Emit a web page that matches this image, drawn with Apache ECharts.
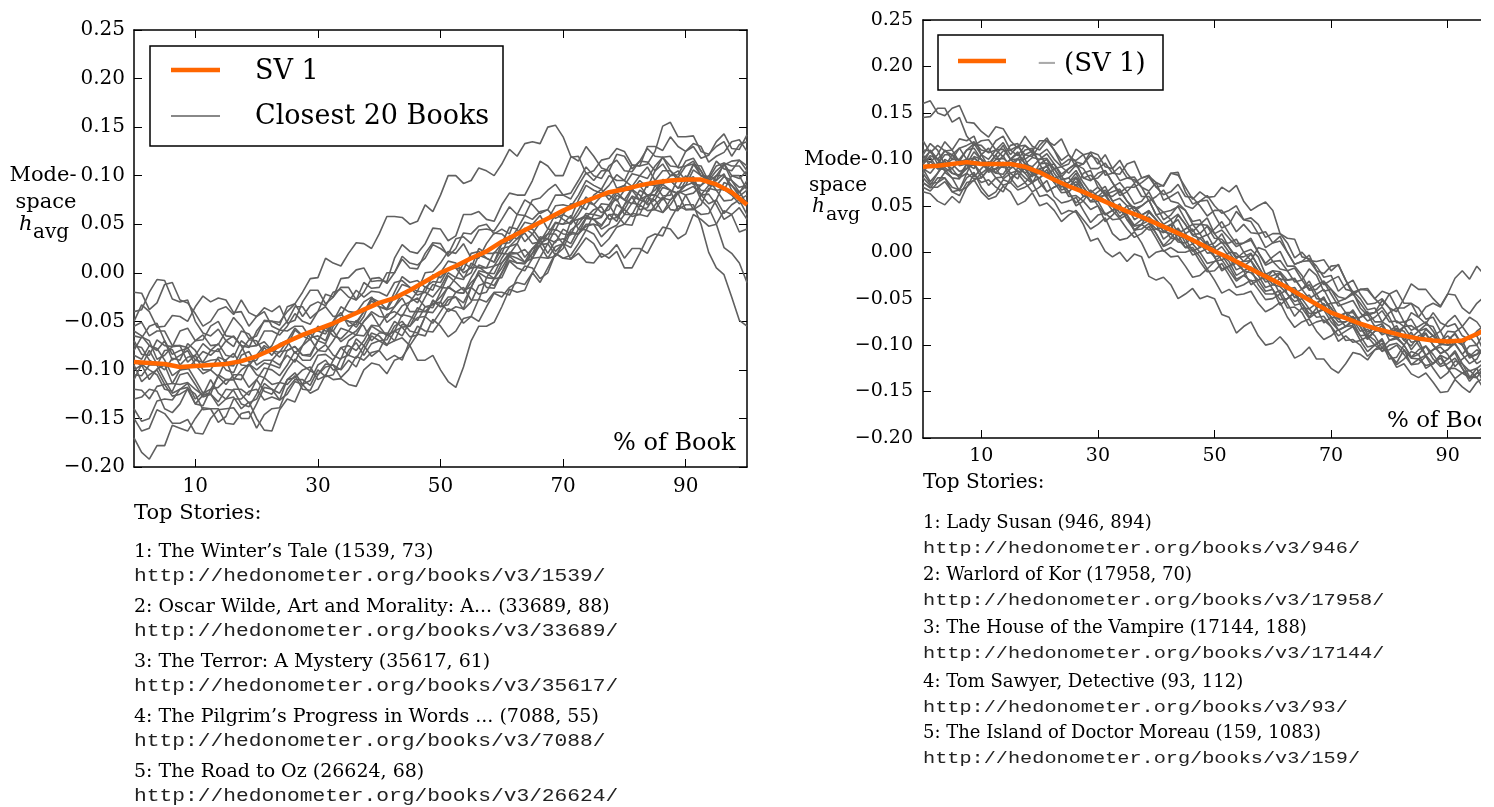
<!DOCTYPE html>
<html><head><meta charset="utf-8">
<script src="https://cdn.jsdelivr.net/npm/echarts@6/dist/echarts.min.js"></script>
<style>
html,body{margin:0;padding:0;background:#fff;width:1494px;height:807px;overflow:hidden}
#wrap{position:absolute;left:0;top:0;width:1481px;height:807px;overflow:hidden;background:#fff}
#chart{position:absolute;left:0;top:0;width:1530px;height:807px}
</style></head><body><div id="wrap"><div id="chart"></div></div>
<script>
// ---------- data ----------
const pct = [0,2.5,5,7.5,10,12.5,15,17.5,20,22.5,25,27.5,30,32.5,35,37.5,40,42.5,45,47.5,50,52.5,55,57.5,60,62.5,65,67.5,70,72.5,75,77.5,80,82.5,85,87.5,90,92.5,95,97.5,100];
const pctFine = [0,1.25,2.5,3.75,5,6.25,7.5,8.75,10,11.25,12.5,13.75,15,16.25,17.5,18.75,20,21.25,22.5,23.75,25,26.25,27.5,28.75,30,31.25,32.5,33.75,35,36.25,37.5,38.75,40,41.25,42.5,43.75,45,46.25,47.5,48.75,50,51.25,52.5,53.75,55,56.25,57.5,58.75,60,61.25,62.5,63.75,65,66.25,67.5,68.75,70,71.25,72.5,73.75,75,76.25,77.5,78.75,80,81.25,82.5,83.75,85,86.25,87.5,88.75,90,91.25,92.5,93.75,95,96.25,97.5,98.75,100];
const xTicks = [10,30,50,70,90];
const yMin = -0.2, yMax = 0.25, yStep = 0.05;

const sv1Left = [-0.092,-0.093,-0.094,-0.097,-0.096,-0.095,-0.094,-0.091,-0.086,-0.079,-0.071,-0.064,-0.058,-0.052,-0.045,-0.038,-0.031,-0.026,-0.018,-0.009,0,0.007,0.015,0.022,0.032,0.04,0.048,0.056,0.064,0.071,0.077,0.083,0.086,0.09,0.093,0.095,0.096,0.096,0.091,0.083,0.07];
const sv1Right = [0.092,0.093,0.095,0.097,0.095,0.095,0.095,0.092,0.086,0.078,0.071,0.065,0.058,0.051,0.044,0.038,0.031,0.024,0.017,0.009,0.001,-0.006,-0.014,-0.022,-0.03,-0.038,-0.047,-0.056,-0.065,-0.071,-0.077,-0.082,-0.086,-0.09,-0.093,-0.095,-0.096,-0.095,-0.088,-0.08,-0.07];

const leftBook1 = [-0.02,-0.021,-0.038,-0.031,-0.012,-0.01,-0.028,-0.031,-0.042,-0.055,-0.05,-0.038,-0.035,-0.043,-0.028,-0.041,-0.045,-0.036,-0.04,-0.034,-0.052,-0.049,-0.03,-0.018,-0.018,-0.032,-0.025,-0.006,-0.005,0.003,0.005,-0.009,-0.008,-0.009,0.015,0.029,0.022,0.02,0.03,0.046,0.045,0.033,0.038,0.06,0.06,0.063,0.055,0.053,0.07,0.082,0.08,0.08,0.095,0.115,0.11,0.1,0.1,0.119,0.12,0.102,0.105,0.116,0.118,0.128,0.125,0.111,0.11,0.13,0.13,0.126,0.14,0.13,0.125,0.13,0.118,0.121,0.135,0.143,0.128,0.127,0.142];
const leftBook2 = [-0.17,-0.185,-0.192,-0.178,-0.178,-0.157,-0.16,-0.163,-0.15,-0.139,-0.14,-0.154,-0.148,-0.13,-0.13,-0.122,-0.12,-0.131,-0.128,-0.131,-0.11,-0.103,-0.115,-0.111,-0.095,-0.09,-0.1,-0.099,-0.08,-0.072,-0.085,-0.073,-0.07,-0.075,-0.06,-0.056,-0.066,-0.064,-0.045,-0.028,-0.035,-0.033,-0.02,-0.015,-0.028,-0.028,-0.005,0.007,0.01,0.021,0.02,0.011,0.015,0.035,0.035,0.031,0.045,0.04,0.04,0.056,0.055,0.057,0.07,0.076,0.06,0.06,0.075,0.091,0.09,0.079,0.08,0.098,0.095,0.094,0.085,0.084,0.1,0.1,0.09,0.082,0.095];
const leftBook3 = [-0.06,-0.065,-0.075,-0.08,-0.07,-0.09,-0.085,-0.08,-0.095,-0.104,-0.1,-0.087,-0.09,-0.109,-0.11,-0.094,-0.1,-0.093,-0.095,-0.098,-0.08,-0.076,-0.085,-0.086,-0.07,-0.056,-0.065,-0.068,-0.06,-0.049,-0.055,-0.07,-0.062,-0.062,-0.07,-0.067,-0.075,-0.09,-0.09,-0.085,-0.1,-0.112,-0.118,-0.097,-0.07,-0.055,-0.055,-0.051,-0.035,-0.017,-0.02,-0.018,0,0.016,0.015,0.017,0.03,0.053,0.055,0.059,0.055,0.049,0.06,0.06,0.05,0.049,0.07,0.064,0.065,0.077,0.075,0.082,0.065,0.065,0.08,0.081,0.07,0.055,0.06,0.067,0.055];
const leftBook4 = [-0.11,-0.094,-0.1,-0.105,-0.12,-0.122,-0.105,-0.103,-0.115,-0.128,-0.125,-0.105,-0.11,-0.11,-0.1,-0.094,-0.105,-0.108,-0.09,-0.081,-0.08,-0.076,-0.085,-0.084,-0.07,-0.055,-0.06,-0.071,-0.065,-0.06,-0.05,-0.04,-0.045,-0.046,-0.035,-0.026,-0.04,-0.04,-0.025,-0.012,-0.015,-0.016,-0.005,0.01,0.005,0.006,0,-0.001,0.015,0.027,0.03,0.016,0.025,0.028,0.04,0.052,0.05,0.059,0.045,0.044,0.06,0.071,0.07,0.057,0.065,0.079,0.075,0.08,0.08,0.075,0.085,0.065,0.07,0.07,0.05,0.021,0.005,-0.002,-0.025,-0.049,-0.055];
const leftBook5 = [-0.08,-0.066,-0.07,-0.089,-0.085,-0.076,-0.075,-0.077,-0.09,-0.092,-0.08,-0.073,-0.085,-0.087,-0.07,-0.076,-0.075,-0.06,-0.06,-0.064,-0.055,-0.042,-0.05,-0.053,-0.04,-0.035,-0.045,-0.044,-0.03,-0.018,-0.025,-0.019,-0.02,-0.024,-0.01,-0.008,-0.015,-0.019,0,0.001,0.01,0.022,0.02,0.03,0.015,0.015,0.03,0.041,0.04,0.033,0.045,0.059,0.055,0.063,0.065,0.056,0.06,0.056,0.075,0.09,0.085,0.082,0.09,0.101,0.095,0.089,0.1,0.109,0.095,0.105,0.105,0.098,0.11,0.112,0.1,0.095,0.105,0.112,0.095,0.088,0.09];
const leftBook6 = [-0.13,-0.128,-0.12,-0.122,-0.14,-0.144,-0.135,-0.119,-0.125,-0.141,-0.14,-0.14,-0.155,-0.156,-0.145,-0.143,-0.16,-0.146,-0.14,-0.139,-0.12,-0.11,-0.11,-0.116,-0.1,-0.107,-0.105,-0.088,-0.085,-0.068,-0.075,-0.086,-0.08,-0.064,-0.06,-0.065,-0.05,-0.036,-0.04,-0.032,-0.03,-0.04,-0.035,-0.037,-0.015,0,-0.005,-0.006,0.005,0.018,0.015,0.011,0.025,0.034,0.02,0.033,0.035,0.03,0.045,0.057,0.055,0.045,0.05,0.07,0.065,0.058,0.06,0.077,0.075,0.062,0.07,0.082,0.085,0.089,0.08,0.071,0.075,0.093,0.09,0.079,0.085];
const leftBook7 = [-0.1,-0.095,-0.11,-0.099,-0.095,-0.114,-0.115,-0.113,-0.12,-0.126,-0.11,-0.124,-0.13,-0.128,-0.14,-0.133,-0.15,-0.162,-0.163,-0.141,-0.13,-0.133,-0.115,-0.101,-0.105,-0.097,-0.095,-0.1,-0.09,-0.097,-0.08,-0.065,-0.07,-0.069,-0.055,-0.05,-0.06,-0.062,-0.045,-0.029,-0.035,-0.025,-0.025,-0.038,-0.03,-0.013,-0.01,-0.013,0,0.017,0.01,0.01,0.02,0.037,0.035,0.022,0.03,0.044,0.05,0.061,0.06,0.058,0.07,0.083,0.075,0.071,0.085,0.08,0.08,0.096,0.095,0.087,0.09,0.106,0.1,0.097,0.11,0.113,0.1,0.097,0.105];
const leftBook8 = [-0.05,-0.033,-0.04,-0.056,-0.055,-0.044,-0.045,-0.05,-0.035,-0.024,-0.03,-0.026,-0.028,-0.041,-0.04,-0.055,-0.045,-0.04,-0.055,-0.059,-0.05,-0.035,-0.035,-0.047,-0.04,-0.022,-0.025,-0.015,-0.015,-0.028,-0.02,-0.006,-0.005,-0.011,0,0.017,0.01,0.008,0.015,0.029,0.025,0.019,0.035,0.037,0.03,0.044,0.045,0.043,0.055,0.068,0.06,0.059,0.075,0.077,0.085,0.091,0.08,0.082,0.095,0.109,0.1,0.097,0.11,0.116,0.105,0.104,0.115,0.128,0.12,0.119,0.11,0.109,0.125,0.133,0.13,0.114,0.12,0.124,0.135,0.137,0.125];
const leftBook9 = [-0.095,-0.112,-0.105,-0.1,-0.115,-0.114,-0.1,-0.097,-0.11,-0.124,-0.12,-0.107,-0.115,-0.105,-0.105,-0.118,-0.11,-0.098,-0.1,-0.106,-0.095,-0.081,-0.09,-0.09,-0.08,-0.074,-0.085,-0.089,-0.07,-0.064,-0.065,-0.054,-0.055,-0.065,-0.06,-0.043,-0.045,-0.049,-0.035,-0.033,-0.025,-0.015,-0.02,-0.021,-0.01,-0.002,-0.015,-0.016,0,0.013,0.01,0.009,0.02,0.028,0.015,0.027,0.03,0.026,0.04,0.05,0.05,0.037,0.045,0.049,0.06,0.072,0.07,0.08,0.065,0.062,0.075,0.084,0.08,0.065,0.07,0.087,0.085,0.086,0.08,0.071,0.075];
const leftBook10 = [-0.04,-0.038,-0.02,-0.007,-0.008,-0.027,-0.03,-0.028,-0.05,-0.062,-0.065,-0.058,-0.07,-0.076,-0.06,-0.063,-0.075,-0.071,-0.08,-0.082,-0.07,-0.057,-0.065,-0.069,-0.055,-0.06,-0.06,-0.047,-0.05,-0.051,-0.04,-0.026,-0.035,-0.038,-0.025,-0.012,-0.015,-0.023,-0.02,-0.002,-0.005,0.004,0.005,0.003,0.02,0.022,0.015,0.011,0.03,0.031,0.04,0.052,0.05,0.059,0.045,0.044,0.06,0.071,0.07,0.065,0.08,0.086,0.075,0.085,0.09,0.085,0.095,0.088,0.105,0.112,0.1,0.101,0.115,0.118,0.105,0.091,0.095,0.113,0.11,0.11,0.1];
const leftBook11 = [-0.12,-0.121,-0.13,-0.117,-0.115,-0.127,-0.125,-0.12,-0.135,-0.137,-0.12,-0.118,-0.11,-0.11,-0.125,-0.134,-0.13,-0.114,-0.12,-0.131,-0.125,-0.112,-0.115,-0.124,-0.12,-0.105,-0.11,-0.109,-0.115,-0.117,-0.1,-0.093,-0.095,-0.104,-0.09,-0.087,-0.075,-0.063,-0.065,-0.048,-0.055,-0.066,-0.06,-0.047,-0.045,-0.05,-0.035,-0.021,-0.025,-0.015,-0.01,-0.012,0,-0.01,0.005,0.02,0.015,0.014,0.025,0.036,0.03,0.016,0.02,0.029,0.015,0.025,0.025,0.02,0.035,0.047,0.045,0.035,0.04,0.06,0.055,0.048,0.05,0.064,0.06,0.042,0.045];
const leftBook12 = [-0.07,-0.084,-0.085,-0.069,-0.075,-0.076,-0.06,-0.057,-0.07,-0.069,-0.055,-0.05,-0.065,-0.066,-0.075,-0.077,-0.06,-0.05,-0.05,-0.054,-0.035,-0.032,-0.02,-0.006,-0.005,0.015,0.01,0.007,0.02,0.031,0.03,0.025,0.04,0.058,0.058,0.057,0.05,0.053,0.07,0.063,0.08,0.1,0.1,0.092,0.095,0.108,0.105,0.1,0.112,0.127,0.12,0.133,0.135,0.133,0.15,0.152,0.14,0.12,0.115,0.13,0.12,0.108,0.105,0.122,0.12,0.107,0.115,0.114,0.105,0.119,0.12,0.108,0.11,0.115,0.1,0.099,0.115,0.107,0.105,0.116,0.11];
const leftBook13 = [-0.085,-0.089,-0.075,-0.078,-0.09,-0.106,-0.1,-0.099,-0.09,-0.081,-0.085,-0.078,-0.095,-0.096,-0.08,-0.069,-0.07,-0.083,-0.075,-0.059,-0.06,-0.055,-0.055,-0.067,-0.065,-0.07,-0.05,-0.035,-0.04,-0.041,-0.03,-0.025,-0.035,-0.037,-0.02,-0.004,-0.01,-0.008,-0.015,-0.018,0,0.012,0.01,0,0.005,0.025,0.02,0.02,0.03,0.047,0.045,0.032,0.04,0.052,0.055,0.069,0.07,0.068,0.08,0.095,0.09,0.086,0.1,0.095,0.095,0.111,0.11,0.112,0.125,0.151,0.155,0.14,0.14,0.141,0.125,0.122,0.13,0.135,0.12,0.132,0.135];
const leftBook14 = [-0.075,-0.077,-0.09,-0.095,-0.08,-0.079,-0.095,-0.087,-0.085,-0.1,-0.1,-0.107,-0.09,-0.083,-0.095,-0.096,-0.085,-0.075,-0.08,-0.087,-0.075,-0.059,-0.065,-0.063,-0.07,-0.073,-0.055,-0.046,-0.05,-0.056,-0.045,-0.026,-0.03,-0.038,-0.035,-0.021,-0.025,-0.031,-0.015,-0.009,-0.01,0.004,0.005,-0.005,0,0.018,0.015,0.011,0.025,0.027,0.035,0.041,0.03,0.032,0.045,0.061,0.055,0.05,0.06,0.073,0.07,0.062,0.065,0.08,0.075,0.087,0.09,0.079,0.085,0.095,0.095,0.087,0.1,0.091,0.09,0.1,0.095,0.102,0.085,0.075,0.08];
const leftBook15 = [-0.105,-0.106,-0.095,-0.095,-0.11,-0.124,-0.12,-0.114,-0.13,-0.123,-0.125,-0.133,-0.12,-0.121,-0.135,-0.138,-0.125,-0.108,-0.115,-0.113,-0.1,-0.089,-0.095,-0.101,-0.085,-0.084,-0.09,-0.077,-0.075,-0.08,-0.07,-0.055,-0.06,-0.064,-0.05,-0.056,-0.055,-0.04,-0.04,-0.041,-0.03,-0.014,-0.02,-0.021,-0.005,0.008,0.005,0.007,0.02,0.038,0.035,0.044,0.045,0.034,0.04,0.04,0.03,0.014,0.02,0.011,0.01,0.02,0.015,0.022,0.005,0.005,0.02,0.036,0.04,0.038,0.055,0.069,0.065,0.066,0.06,0.061,0.075,0.061,0.07,0.075,0.06];
const leftBook16 = [-0.15,-0.163,-0.16,-0.141,-0.145,-0.155,-0.155,-0.151,-0.165,-0.166,-0.15,-0.141,-0.14,-0.139,-0.15,-0.15,-0.135,-0.118,-0.12,-0.124,-0.11,-0.108,-0.1,-0.097,-0.11,-0.106,-0.09,-0.077,-0.085,-0.088,-0.075,-0.062,-0.065,-0.074,-0.07,-0.053,-0.055,-0.046,-0.045,-0.052,-0.04,-0.028,-0.025,-0.031,-0.015,-0.022,-0.02,-0.006,-0.005,0.012,0.005,0.002,0.015,0.029,0.03,0.018,0.025,0.042,0.04,0.048,0.05,0.048,0.06,0.053,0.07,0.078,0.065,0.067,0.08,0.091,0.085,0.081,0.095,0.099,0.08,0.09,0.09,0.085,0.1,0.1,0.085];
const leftBook17 = [-0.065,-0.067,-0.055,-0.052,-0.07,-0.084,-0.08,-0.078,-0.07,-0.064,-0.075,-0.074,-0.06,-0.046,-0.055,-0.068,-0.065,-0.049,-0.05,-0.051,-0.04,-0.032,-0.045,-0.034,-0.03,-0.034,-0.02,-0.017,-0.025,-0.028,-0.01,-0.016,-0.015,0,0,0.014,0.005,0.004,0.02,0.031,0.03,0.017,0.025,0.041,0.04,0.048,0.05,0.04,0.045,0.04,0.06,0.075,0.07,0.061,0.065,0.08,0.08,0.076,0.09,0.103,0.095,0.105,0.105,0.087,0.09,0.102,0.1,0.097,0.11,0.119,0.105,0.095,0.095,0.111,0.11,0.094,0.1,0.111,0.115,0.116,0.105];
const leftBook18 = [-0.14,-0.153,-0.15,-0.132,-0.13,-0.131,-0.12,-0.118,-0.135,-0.126,-0.125,-0.137,-0.13,-0.12,-0.12,-0.126,-0.11,-0.122,-0.125,-0.113,-0.115,-0.106,-0.12,-0.121,-0.105,-0.094,-0.095,-0.108,-0.1,-0.086,-0.09,-0.082,-0.08,-0.09,-0.085,-0.09,-0.07,-0.055,-0.06,-0.061,-0.05,-0.037,-0.04,-0.052,-0.045,-0.027,-0.03,-0.02,-0.02,-0.023,-0.005,0.007,0.005,-0.006,0,0.02,0.015,0.018,0.03,0.044,0.04,0.027,0.035,0.047,0.05,0.061,0.06,0.058,0.07,0.078,0.065,0.064,0.08,0.082,0.09,0.096,0.085,0.074,0.075,0.084,0.07];
const leftBook19 = [-0.09,-0.096,-0.08,-0.094,-0.1,-0.088,-0.09,-0.073,-0.08,-0.093,-0.09,-0.089,-0.1,-0.103,-0.085,-0.081,-0.095,-0.09,-0.09,-0.095,-0.085,-0.092,-0.075,-0.068,-0.08,-0.081,-0.07,-0.057,-0.06,-0.064,-0.05,-0.042,-0.055,-0.043,-0.04,-0.045,-0.03,-0.026,-0.035,-0.036,-0.02,-0.003,-0.01,-0.018,-0.015,0.002,0,-0.006,0.01,0.019,0.02,0.024,0.015,0.016,0.03,0.045,0.04,0.039,0.055,0.057,0.065,0.068,0.055,0.057,0.07,0.086,0.08,0.07,0.075,0.088,0.085,0.082,0.09,0.093,0.075,0.067,0.05,0.026,0.02,0.01,-0.01];
const leftBook20 = [-0.055,-0.051,-0.065,-0.06,-0.06,-0.075,-0.075,-0.092,-0.085,-0.073,-0.08,-0.081,-0.07,-0.065,-0.075,-0.092,-0.09,-0.077,-0.085,-0.073,-0.07,-0.083,-0.075,-0.061,-0.06,-0.063,-0.05,-0.041,-0.055,-0.053,-0.04,-0.029,-0.035,-0.051,-0.045,-0.034,-0.03,-0.019,-0.02,-0.025,-0.015,0,-0.005,-0.007,0.01,0.005,0.005,0.021,0.02,0.019,0.03,0.046,0.04,0.03,0.035,0.051,0.05,0.052,0.065,0.078,0.07,0.079,0.08,0.074,0.085,0.085,0.075,0.072,0.09,0.091,0.1,0.105,0.095,0.112,0.105,0.09,0.09,0.099,0.095,0.083,0.09];

const rightBook1 = [0.16,0.163,0.15,0.147,0.155,0.158,0.14,0.139,0.13,0.124,0.135,0.133,0.12,0.112,0.125,0.114,0.11,0.12,0.115,0.122,0.105,0.092,0.095,0.104,0.1,0.083,0.085,0.092,0.08,0.078,0.07,0.066,0.075,0.056,0.06,0.065,0.05,0.047,0.055,0.056,0.04,0.026,0.03,0.044,0.035,0.033,0.02,0.005,0.01,0.012,0,-0.013,-0.01,-0.003,-0.02,-0.023,-0.015,-0.014,-0.03,-0.046,-0.04,-0.041,-0.05,-0.042,-0.045,-0.06,-0.06,-0.055,-0.07,-0.077,-0.065,-0.076,-0.08,-0.077,-0.09,-0.094,-0.085,-0.079,-0.095,-0.106,-0.1];
const rightBook2 = [0.145,0.146,0.155,0.155,0.14,0.145,0.125,0.115,0.12,0.121,0.11,0.103,0.115,0.117,0.1,0.106,0.105,0.093,0.095,0.081,0.09,0.095,0.08,0.077,0.085,0.088,0.075,0.061,0.065,0.074,0.06,0.06,0.05,0.035,0.04,0.05,0.045,0.03,0.03,0.037,0.02,0.01,0.01,0.014,0,-0.009,0.005,0.002,-0.01,-0.009,-0.02,-0.032,-0.03,-0.018,-0.025,-0.042,-0.04,-0.048,-0.05,-0.045,-0.055,-0.066,-0.065,-0.052,-0.06,-0.076,-0.075,-0.072,-0.085,-0.094,-0.09,-0.085,-0.1,-0.094,-0.095,-0.112,-0.11,-0.103,-0.105,-0.121,-0.115];
const rightBook3 = [0.065,0.063,0.055,0.051,0.06,0.053,0.07,0.078,0.065,0.057,0.06,0.071,0.065,0.051,0.055,0.064,0.05,0.053,0.045,0.033,0.04,0.045,0.035,0.025,0.03,0.037,0.02,0.013,0.015,0.022,0.01,-0.006,0,0.002,-0.005,-0.004,-0.015,-0.027,-0.025,-0.018,-0.03,-0.044,-0.04,-0.046,-0.045,-0.042,-0.055,-0.064,-0.06,-0.054,-0.07,-0.081,-0.075,-0.072,-0.085,-0.094,-0.09,-0.083,-0.095,-0.094,-0.1,-0.112,-0.105,-0.103,-0.11,-0.119,-0.105,-0.114,-0.115,-0.111,-0.12,-0.111,-0.125,-0.136,-0.13,-0.127,-0.135,-0.148,-0.14,-0.134,-0.145];
const rightBook4 = [0.1,0.109,0.095,0.105,0.105,0.098,0.11,0.112,0.1,0.095,0.105,0.115,0.1,0.1,0.11,0.112,0.095,0.082,0.09,0.092,0.085,0.094,0.09,0.078,0.08,0.088,0.075,0.064,0.07,0.07,0.075,0.081,0.07,0.072,0.085,0.086,0.065,0.052,0.055,0.061,0.05,0.042,0.045,0.05,0.035,0.037,0.03,0.016,0.02,0.02,0.01,-0.006,0,-0.009,-0.01,-0.008,-0.02,-0.013,-0.03,-0.043,-0.04,-0.039,-0.05,-0.058,-0.045,-0.041,-0.055,-0.055,-0.06,-0.072,-0.07,-0.085,-0.075,-0.068,-0.08,-0.091,-0.09,-0.085,-0.095,-0.107,-0.1];
const rightBook5 = [0.105,0.117,0.11,0.094,0.1,0.112,0.115,0.119,0.11,0.108,0.12,0.125,0.11,0.104,0.115,0.107,0.105,0.111,0.1,0.092,0.095,0.111,0.105,0.09,0.09,0.096,0.085,0.084,0.095,0.098,0.08,0.082,0.075,0.071,0.085,0.083,0.07,0.057,0.065,0.059,0.06,0.07,0.065,0.072,0.055,0.045,0.05,0.054,0.045,0.02,0.015,0.014,-0.005,-0.007,-0.015,-0.027,-0.025,-0.042,-0.035,-0.03,-0.045,-0.056,-0.055,-0.05,-0.06,-0.064,-0.05,-0.034,-0.04,-0.04,-0.05,-0.058,-0.045,-0.046,-0.06,-0.066,-0.055,-0.048,-0.065,-0.073,-0.07];
const rightBook6 = [0.075,0.07,0.07,0.076,0.065,0.067,0.08,0.086,0.07,0.06,0.065,0.078,0.075,0.067,0.07,0.075,0.06,0.062,0.055,0.041,0.045,0.043,0.03,0.012,0.015,0.001,-0.005,0,-0.01,-0.002,-0.005,-0.026,-0.03,-0.027,-0.035,-0.05,-0.045,-0.039,-0.05,-0.047,-0.05,-0.067,-0.07,-0.087,-0.08,-0.075,-0.09,-0.1,-0.098,-0.091,-0.1,-0.114,-0.11,-0.102,-0.115,-0.115,-0.125,-0.13,-0.12,-0.108,-0.11,-0.116,-0.105,-0.098,-0.115,-0.113,-0.1,-0.089,-0.095,-0.111,-0.105,-0.099,-0.1,-0.099,-0.11,-0.12,-0.115,-0.1,-0.105,-0.117,-0.11];
const rightBook7 = [0.085,0.098,0.09,0.089,0.08,0.079,0.095,0.095,0.085,0.072,0.08,0.081,0.09,0.095,0.085,0.092,0.075,0.065,0.07,0.074,0.065,0.05,0.055,0.067,0.06,0.056,0.045,0.036,0.04,0.023,0.03,0.043,0.035,0.022,0.02,0.026,0.015,0.001,0.005,0.011,-0.005,-0.003,-0.01,-0.025,-0.02,-0.016,-0.025,-0.038,-0.035,-0.028,-0.045,-0.053,-0.05,-0.046,-0.06,-0.076,-0.07,-0.071,-0.08,-0.079,-0.09,-0.102,-0.1,-0.095,-0.11,-0.124,-0.12,-0.131,-0.135,-0.13,-0.14,-0.151,-0.15,-0.137,-0.145,-0.151,-0.14,-0.135,-0.145,-0.154,-0.15];
const rightBook8 = [0.095,0.11,0.1,0.087,0.09,0.099,0.095,0.09,0.105,0.112,0.1,0.101,0.095,0.086,0.09,0.081,0.095,0.1,0.085,0.074,0.075,0.081,0.07,0.059,0.065,0.071,0.055,0.058,0.05,0.035,0.04,0.045,0.035,0.022,0.025,0.04,0.03,0.018,0.015,0.019,0.005,-0.009,0,-0.001,-0.01,-0.009,-0.02,-0.032,-0.03,-0.023,-0.035,-0.049,-0.045,-0.053,-0.055,-0.05,-0.06,-0.071,-0.07,-0.062,-0.075,-0.086,-0.08,-0.077,-0.09,-0.091,-0.08,-0.065,-0.07,-0.059,-0.055,-0.059,-0.045,-0.028,-0.02,-0.029,-0.015,-0.024,-0.025,-0.016,-0.02];
const rightBook9 = [0.09,0.076,0.085,0.1,0.095,0.087,0.09,0.103,0.1,0.089,0.095,0.104,0.09,0.1,0.1,0.085,0.09,0.092,0.08,0.07,0.075,0.085,0.07,0.06,0.06,0.067,0.055,0.042,0.05,0.049,0.04,0.044,0.035,0.026,0.03,0.035,0.02,0.009,0.015,0.007,0.005,0.011,0,-0.011,-0.01,-0.002,-0.015,-0.028,-0.025,-0.022,-0.035,-0.044,-0.04,-0.035,-0.05,-0.051,-0.06,-0.072,-0.065,-0.065,-0.075,-0.089,-0.08,-0.087,-0.085,-0.083,-0.095,-0.086,-0.1,-0.111,-0.105,-0.102,-0.11,-0.123,-0.115,-0.109,-0.12,-0.115,-0.115,-0.125,-0.12];
const rightBook10 = [0.08,0.072,0.085,0.095,0.09,0.08,0.085,0.102,0.095,0.088,0.09,0.097,0.085,0.079,0.095,0.102,0.1,0.101,0.09,0.078,0.08,0.088,0.075,0.064,0.07,0.062,0.06,0.066,0.055,0.047,0.05,0.056,0.04,0.03,0.035,0.041,0.03,0.019,0.02,0.028,0.015,0.014,0.005,-0.007,0,0.003,-0.005,-0.024,-0.02,-0.029,-0.03,-0.028,-0.04,-0.031,-0.045,-0.058,-0.055,-0.054,-0.065,-0.078,-0.07,-0.064,-0.075,-0.075,-0.08,-0.092,-0.09,-0.105,-0.095,-0.088,-0.1,-0.109,-0.105,-0.095,-0.1,-0.114,-0.11,-0.102,-0.115,-0.108,-0.11];
const rightBook11 = [0.11,0.109,0.1,0.109,0.105,0.093,0.095,0.108,0.1,0.086,0.09,0.092,0.1,0.106,0.095,0.084,0.085,0.094,0.08,0.067,0.07,0.076,0.065,0.054,0.055,0.063,0.05,0.049,0.04,0.029,0.035,0.038,0.03,0.014,0.02,0.011,0.01,0.015,0.005,0.012,-0.005,-0.018,-0.015,-0.012,-0.02,-0.035,-0.03,-0.024,-0.035,-0.037,-0.045,-0.057,-0.055,-0.07,-0.06,-0.055,-0.07,-0.079,-0.075,-0.07,-0.08,-0.092,-0.085,-0.079,-0.095,-0.093,-0.1,-0.113,-0.105,-0.101,-0.11,-0.121,-0.115,-0.106,-0.12,-0.128,-0.125,-0.119,-0.13,-0.139,-0.125];
const rightBook12 = [0.1,0.097,0.105,0.119,0.11,0.097,0.1,0.116,0.115,0.107,0.11,0.118,0.105,0.114,0.115,0.109,0.12,0.12,0.11,0.094,0.1,0.099,0.105,0.107,0.095,0.105,0.09,0.077,0.08,0.081,0.07,0.055,0.06,0.067,0.055,0.053,0.045,0.033,0.035,0.018,0.025,0.033,0.02,0.009,0.01,0.013,0,-0.012,-0.005,0.001,-0.015,-0.015,-0.025,-0.04,-0.035,-0.031,-0.04,-0.053,-0.05,-0.043,-0.06,-0.068,-0.065,-0.059,-0.07,-0.086,-0.08,-0.079,-0.085,-0.082,-0.09,-0.1,-0.095,-0.088,-0.1,-0.112,-0.105,-0.111,-0.11,-0.1,-0.105];
const rightBook13 = [0.075,0.069,0.08,0.08,0.07,0.067,0.085,0.079,0.08,0.09,0.085,0.095,0.08,0.07,0.075,0.084,0.08,0.065,0.07,0.074,0.06,0.061,0.055,0.046,0.05,0.033,0.04,0.048,0.035,0.024,0.025,0.031,0.02,0.006,0.01,0.019,0.005,0.005,-0.005,-0.018,-0.01,-0.008,-0.02,-0.031,-0.025,-0.018,-0.035,-0.045,-0.045,-0.041,-0.055,-0.069,-0.06,-0.061,-0.07,-0.069,-0.08,-0.09,-0.085,-0.08,-0.095,-0.107,-0.1,-0.106,-0.105,-0.1,-0.11,-0.121,-0.12,-0.112,-0.125,-0.136,-0.13,-0.117,-0.12,-0.134,-0.135,-0.123,-0.13,-0.129,-0.135];
const rightBook14 = [0.095,0.104,0.1,0.092,0.105,0.112,0.1,0.101,0.095,0.093,0.105,0.091,0.1,0.108,0.095,0.092,0.1,0.106,0.095,0.084,0.09,0.096,0.08,0.083,0.075,0.063,0.07,0.075,0.065,0.052,0.055,0.065,0.05,0.043,0.045,0.049,0.035,0.022,0.03,0.029,0.02,0.024,0.015,0.006,0.01,0.015,0,-0.014,-0.01,-0.018,-0.02,-0.017,-0.03,-0.041,-0.04,-0.032,-0.045,-0.058,-0.055,-0.052,-0.065,-0.074,-0.07,-0.063,-0.075,-0.074,-0.08,-0.092,-0.085,-0.078,-0.08,-0.096,-0.09,-0.097,-0.095,-0.091,-0.1,-0.086,-0.095,-0.106,-0.1];
const rightBook15 = [0.085,0.074,0.075,0.086,0.08,0.066,0.07,0.084,0.075,0.078,0.07,0.065,0.08,0.085,0.075,0.065,0.07,0.077,0.06,0.053,0.055,0.059,0.045,0.032,0.04,0.042,0.035,0.036,0.025,0.016,0.02,0.028,0.015,0.001,0.005,0,0,0.003,-0.01,-0.021,-0.02,-0.012,-0.025,-0.038,-0.035,-0.03,-0.04,-0.051,-0.05,-0.045,-0.06,-0.059,-0.065,-0.079,-0.075,-0.073,-0.08,-0.096,-0.09,-0.097,-0.095,-0.091,-0.1,-0.093,-0.11,-0.121,-0.115,-0.107,-0.11,-0.125,-0.12,-0.114,-0.125,-0.125,-0.13,-0.135,-0.125,-0.142,-0.135,-0.123,-0.13];
const rightBook16 = [0.105,0.092,0.095,0.11,0.1,0.1,0.11,0.117,0.105,0.092,0.1,0.109,0.11,0.114,0.105,0.103,0.115,0.123,0.11,0.099,0.105,0.097,0.095,0.108,0.105,0.092,0.09,0.099,0.085,0.075,0.08,0.083,0.07,0.062,0.065,0.073,0.06,0.059,0.05,0.039,0.045,0.045,0.035,0.022,0.03,0.021,0.02,0.022,0.01,0.017,0,-0.013,-0.01,-0.009,-0.02,-0.035,-0.03,-0.026,-0.04,-0.042,-0.05,-0.062,-0.06,-0.075,-0.065,-0.06,-0.075,-0.084,-0.08,-0.075,-0.085,-0.099,-0.095,-0.087,-0.1,-0.09,-0.09,-0.108,-0.105,-0.096,-0.1];
const rightBook17 = [0.07,0.066,0.075,0.08,0.065,0.061,0.075,0.077,0.085,0.091,0.08,0.072,0.075,0.091,0.085,0.075,0.08,0.086,0.075,0.064,0.065,0.073,0.06,0.062,0.055,0.041,0.045,0.048,0.04,0.024,0.03,0.024,0.025,0.027,0.015,0.025,0.01,-0.003,0,0.004,-0.005,-0.02,-0.015,-0.009,-0.02,-0.022,-0.03,-0.042,-0.04,-0.057,-0.05,-0.043,-0.055,-0.066,-0.065,-0.06,-0.07,-0.084,-0.08,-0.072,-0.085,-0.083,-0.09,-0.103,-0.095,-0.091,-0.1,-0.113,-0.11,-0.101,-0.115,-0.123,-0.12,-0.114,-0.125,-0.139,-0.13,-0.131,-0.14,-0.132,-0.135];
const rightBook18 = [0.09,0.085,0.095,0.098,0.085,0.082,0.09,0.095,0.08,0.089,0.09,0.079,0.085,0.088,0.08,0.074,0.09,0.081,0.08,0.082,0.07,0.08,0.065,0.055,0.06,0.061,0.05,0.038,0.045,0.049,0.035,0.033,0.025,0.021,0.03,0.013,0.02,0.025,0.01,-0.001,0,0.006,-0.005,-0.019,-0.015,-0.009,-0.025,-0.023,-0.03,-0.045,-0.04,-0.038,-0.05,-0.061,-0.055,-0.048,-0.065,-0.075,-0.075,-0.069,-0.08,-0.094,-0.085,-0.084,-0.09,-0.082,-0.085,-0.097,-0.095,-0.083,-0.09,-0.097,-0.085,-0.086,-0.08,-0.07,-0.075,-0.086,-0.085,-0.072,-0.08];
const rightBook19 = [0.12,0.107,0.115,0.109,0.11,0.122,0.12,0.125,0.105,0.1,0.11,0.111,0.1,0.093,0.105,0.109,0.095,0.096,0.09,0.078,0.08,0.071,0.085,0.088,0.07,0.062,0.065,0.068,0.055,0.044,0.05,0.056,0.04,0.043,0.035,0.02,0.025,0.03,0.02,0.007,0.01,0.02,0.005,-0.005,-0.005,-0.001,-0.015,-0.029,-0.02,-0.021,-0.03,-0.029,-0.04,-0.05,-0.045,-0.04,-0.055,-0.069,-0.065,-0.071,-0.07,-0.067,-0.08,-0.089,-0.085,-0.079,-0.095,-0.101,-0.09,-0.087,-0.1,-0.109,-0.105,-0.098,-0.11,-0.101,-0.1,-0.114,-0.11,-0.108,-0.115];
const rightBook20 = [0.095,0.102,0.09,0.091,0.085,0.083,0.095,0.081,0.09,0.098,0.085,0.084,0.095,0.101,0.09,0.076,0.08,0.089,0.075,0.075,0.065,0.053,0.06,0.062,0.05,0.04,0.045,0.052,0.035,0.028,0.03,0.034,0.02,0.007,0.015,0.014,0.005,0.009,0,-0.012,-0.01,-0.003,-0.015,-0.029,-0.025,-0.031,-0.03,-0.027,-0.04,-0.051,-0.05,-0.044,-0.06,-0.071,-0.065,-0.062,-0.075,-0.084,-0.08,-0.075,-0.09,-0.089,-0.095,-0.107,-0.1,-0.098,-0.105,-0.121,-0.115,-0.122,-0.12,-0.111,-0.115,-0.108,-0.125,-0.136,-0.13,-0.122,-0.125,-0.138,-0.13];

const leftBooks = [leftBook1,leftBook2,leftBook3,leftBook4,leftBook5,leftBook6,leftBook7,leftBook8,leftBook9,leftBook10,leftBook11,leftBook12,leftBook13,leftBook14,leftBook15,leftBook16,leftBook17,leftBook18,leftBook19,leftBook20];
const rightBooks = [rightBook1,rightBook2,rightBook3,rightBook4,rightBook5,rightBook6,rightBook7,rightBook8,rightBook9,rightBook10,rightBook11,rightBook12,rightBook13,rightBook14,rightBook15,rightBook16,rightBook17,rightBook18,rightBook19,rightBook20];

const leftTitles = ["1: The Winter\u2019s Tale (1539, 73)","2: Oscar Wilde, Art and Morality: A... (33689, 88)","3: The Terror: A Mystery (35617, 61)","4: The Pilgrim\u2019s Progress in Words ... (7088, 55)","5: The Road to Oz (26624, 68)"];
const leftUrls = ["http://hedonometer.org/books/v3/1539/","http://hedonometer.org/books/v3/33689/","http://hedonometer.org/books/v3/35617/","http://hedonometer.org/books/v3/7088/","http://hedonometer.org/books/v3/26624/"];
const rightTitles = ["1: Lady Susan (946, 894)","2: Warlord of Kor (17958, 70)","3: The House of the Vampire (17144, 188)","4: Tom Sawyer, Detective (93, 112)","5: The Island of Doctor Moreau (159, 1083)"];
const rightUrls = ["http://hedonometer.org/books/v3/946/","http://hedonometer.org/books/v3/17958/","http://hedonometer.org/books/v3/17144/","http://hedonometer.org/books/v3/93/","http://hedonometer.org/books/v3/159/"];

// ---------- styling ----------
const SERIF = 'DejaVu Serif';
const MONO = 'Liberation Mono';
const GRAY = '#606060';
const ORANGE = '#ff6600';

function fmtY(v){
  const r = Math.round(v*100);
  return (r < 0 ? '\u2212' : '') + (Math.abs(r)/100).toFixed(2);
}
function mkX(g, pos, showLabel, fs, margin){
  return {type:'value', gridIndex:g, position:pos, min:0, max:100,
    axisLine:{show:true, onZero:false, lineStyle:{color:'#000', width:1.5}},
    axisTick:{show:true, inside:true, length:8, customValues:xTicks, lineStyle:{color:'#000', width:1}},
    axisLabel:{show:showLabel, customValues:xTicks, fontFamily:SERIF, fontSize:fs||20, color:'#000', margin:margin||10},
    splitLine:{show:false}};
}
function mkY(g, pos, showLabel, fs, margin){
  return {type:'value', gridIndex:g, position:pos, min:yMin, max:yMax, interval:yStep,
    axisLine:{show:true, onZero:false, lineStyle:{color:'#000', width:1.5}},
    axisTick:{show:true, inside:true, length:8, lineStyle:{color:'#000', width:1}},
    axisLabel:{show:showLabel, formatter:fmtY, fontFamily:SERIF, fontSize:fs||20, color:'#000', margin:margin||9},
    splitLine:{show:false}};
}
function mkLine(name, xs, vals, axisIdx, color, width, z){
  return {type:'line', name, xAxisIndex:axisIdx, yAxisIndex:axisIdx,
    data: vals.map((v,i)=>[xs[i], v]), symbol:'none', showSymbol:false,
    lineStyle:{color, width}, itemStyle:{color}, z, silent:true, emphasis:{disabled:true}};
}
const series = [];
leftBooks.forEach(b=>series.push(mkLine('Closest 20 Books', pctFine, b, 0, GRAY, 1.6, 2)));
series.push(mkLine('SV 1', pct, sv1Left, 0, ORANGE, 4.5, 5));
rightBooks.forEach(b=>series.push(mkLine('Closest 20 Books (right)', pctFine, b, 2, GRAY, 1.6, 2)));
series.push(mkLine('\u2212 (SV 1)', pct, sv1Right, 2, ORANGE, 4.5, 5));

function txt(x, y, text, fs, opts){
  opts = opts || {};
  return {type:'text', x, y, z:100, silent:true, scaleX:opts.scaleX||1,
    style:{text, fontSize:fs, fontFamily:opts.family||SERIF, fontStyle:opts.italic?'italic':'normal',
      fill:opts.color||'#000', align:opts.align||'left', verticalAlign:'middle'}};
}
const g = [];
// legend (left)
g.push({type:'rect', z:99, silent:true, shape:{x:150, y:46, width:353, height:100}, style:{fill:'#fff', stroke:'#000', lineWidth:1.5}});
g.push({type:'line', z:100, silent:true, shape:{x1:171, y1:70, x2:220, y2:70}, style:{stroke:ORANGE, lineWidth:4.5}});
g.push(txt(255, 72, 'SV 1', 27));
g.push({type:'line', z:100, silent:true, shape:{x1:171, y1:116, x2:220, y2:116}, style:{stroke:GRAY, lineWidth:1.7}});
g.push(txt(255, 117, 'Closest 20 Books', 27));
// legend (right)
g.push({type:'rect', z:99, silent:true, shape:{x:938, y:35, width:225, height:55}, style:{fill:'#fff', stroke:'#000', lineWidth:1.5}});
g.push({type:'line', z:100, silent:true, shape:{x1:958, y1:61, x2:1006, y2:61}, style:{stroke:ORANGE, lineWidth:4.5}});
g.push(txt(1036, 64, '\u2212', 26, {color:'#aaaaaa'}));
g.push(txt(1064, 64, '(SV 1)', 26));
// y titles
g.push(txt(43, 176, 'Mode-', 21, {align:'center'}));
g.push(txt(46, 203, 'space', 21, {align:'center'}));
g.push(txt(19, 225, 'h', 21, {italic:true}));
g.push(txt(33, 233, 'avg', 20));
g.push(txt(836, 160, 'Mode-', 20, {align:'center'}));
g.push(txt(838, 186, 'space', 20, {align:'center'}));
g.push(txt(812, 207, 'h', 20, {italic:true}));
g.push(txt(826, 215, 'avg', 19));
// % of Book
g.push(txt(613, 444, '% of Book', 24));
g.push(txt(1387, 421, '% of Book', 23));
// Top stories left
g.push(txt(134, 514, 'Top Stories:', 21));
leftTitles.forEach((t,i)=>{
  g.push(txt(134, 551.8 + 55*i, t, 19));
  g.push(txt(134, 576.5 + 55*i, leftUrls[i], 18, {family:MONO, scaleX:1.18, color:'#222'}));
});
// Top stories right
g.push(txt(923, 483, 'Top Stories:', 20));
const rb = [530, 581.7, 635, 688.3, 740];
rightTitles.forEach((t,i)=>{
  g.push(txt(923, rb[i]-6.2, t, 18));
  g.push(txt(923, rb[i]+23.3-4.5, rightUrls[i], 17, {family:MONO, scaleX:1.19, color:'#222'}));
});

const option = {
  animation:false,
  backgroundColor:'#fff',
  grid:[{left:134, top:30, width:613, height:437, outerBoundsMode:'none', containLabel:false},
        {left:923, top:20, width:583, height:418, outerBoundsMode:'none', containLabel:false}],
  xAxis:[mkX(0,'bottom',true,20,10), mkX(0,'top',false), mkX(1,'bottom',true,19,9), mkX(1,'top',false)],
  yAxis:[mkY(0,'left',true,20,9), mkY(0,'right',false), mkY(1,'left',true,19,10), mkY(1,'right',false)],
  series,
  graphic:g
};
const chart = echarts.init(document.getElementById('chart'), null, {renderer:'canvas'});
chart.setOption(option);
</script></body></html>
